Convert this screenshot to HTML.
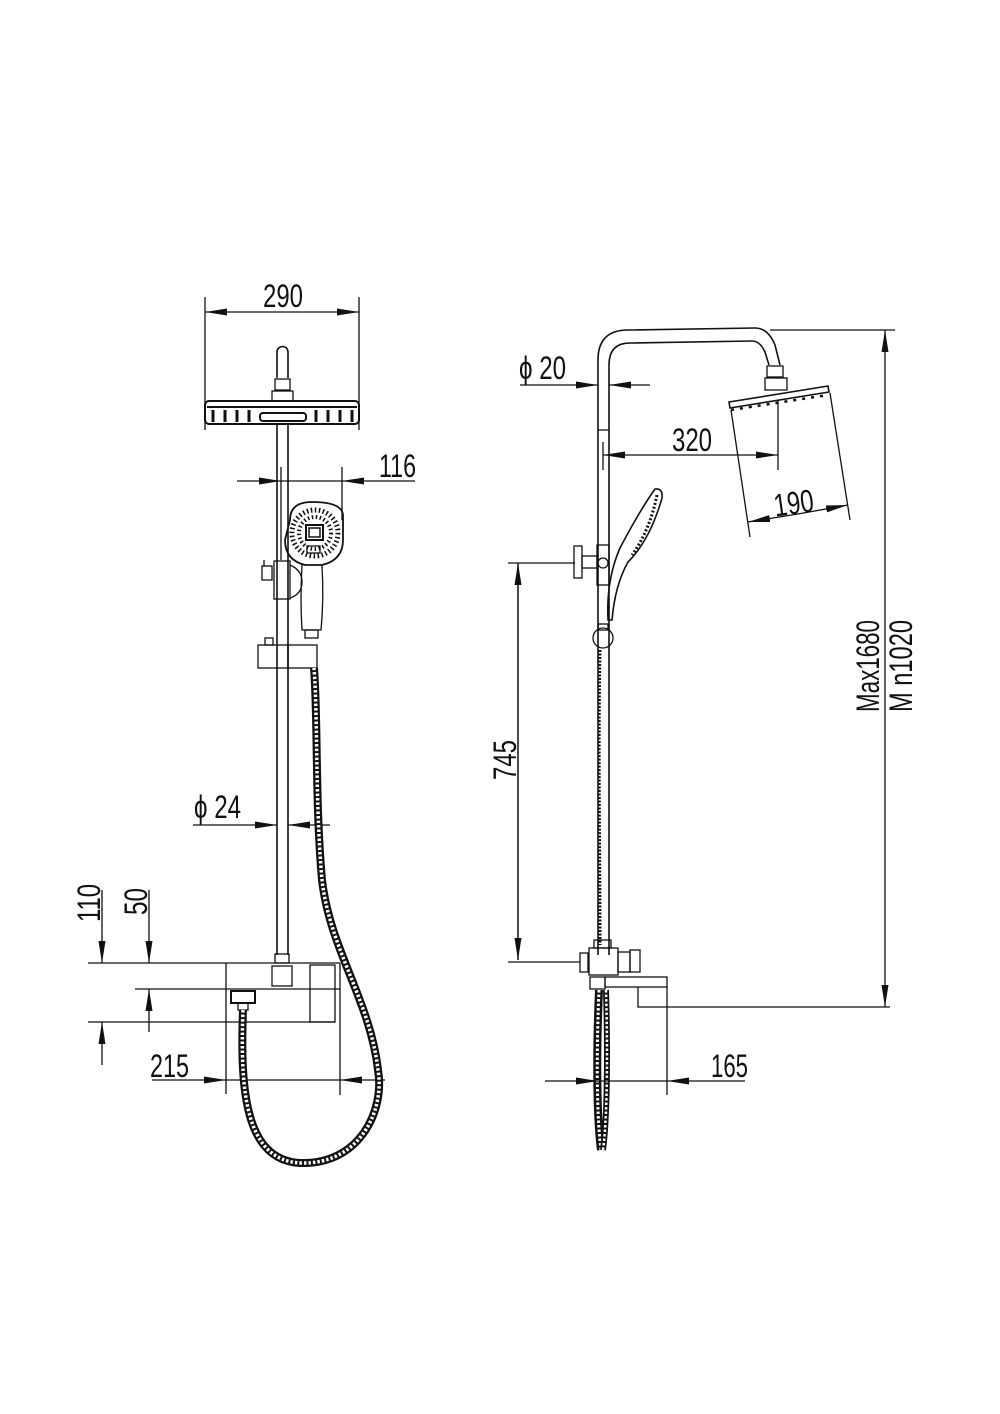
<!DOCTYPE html>
<html><head><meta charset="utf-8"><style>html,body{margin:0;padding:0;background:#fff}svg{display:block}text{font-family:"Liberation Sans Narrow","Liberation Sans",sans-serif;font-size:32px;fill:#111}</style></head><body>
<svg width="1000" height="1414" viewBox="0 0 1000 1414" xmlns="http://www.w3.org/2000/svg">
<defs>
<marker id="a" viewBox="0 0 22 7" refX="22" refY="3.5" markerWidth="22" markerHeight="7" markerUnits="userSpaceOnUse" orient="auto"><path d="M0,0 L22,3.5 L0,7 Z" fill="#111"/></marker>
</defs>
<g stroke="#111" stroke-width="1.3" fill="none">
<!-- LEFT VIEW -->
<line x1="205" y1="297" x2="205" y2="430"/><line x1="359" y1="297" x2="359" y2="430"/>
<line x1="283" y1="312" x2="205" y2="312" marker-end="url(#a)"/><line x1="283" y1="312" x2="359" y2="312" marker-end="url(#a)"/>
<path d="M277,378 V352 A5.5,5.5 0 0 1 288,352 V378" stroke-width="1.6"/>
<rect x="275" y="379" width="15" height="11"/><rect x="272" y="391" width="21" height="10"/>
<rect x="205" y="401" width="154" height="23" rx="4" stroke-width="2"/>
<line x1="207" y1="407" x2="357" y2="407" stroke-width="2"/>
<g stroke-width="3"><line x1="213" y1="410" x2="213" y2="422"/><line x1="225" y1="410" x2="225" y2="422"/><line x1="237" y1="410" x2="237" y2="422"/><line x1="249" y1="410" x2="249" y2="422"/><line x1="316" y1="410" x2="316" y2="422"/><line x1="328" y1="410" x2="328" y2="422"/><line x1="340" y1="410" x2="340" y2="422"/><line x1="352" y1="410" x2="352" y2="422"/></g>
<rect x="260" y="413" width="46" height="8" rx="3" stroke-width="2"/>
<line x1="277" y1="424" x2="277" y2="955" stroke-width="1.6"/><line x1="288" y1="424" x2="288" y2="955" stroke-width="1.6"/>
<line x1="281" y1="467" x2="281" y2="560"/><line x1="342" y1="467" x2="342" y2="520"/>
<line x1="237" y1="481" x2="281" y2="481" marker-end="url(#a)"/><line x1="370" y1="481" x2="342" y2="481" marker-end="url(#a)"/>
<line x1="281" y1="481" x2="342" y2="481"/><line x1="370" y1="481" x2="415" y2="481"/>
<path d="M290,520 Q290,502 312,502 Q342,502 343,515 V540 Q343,560 322,565 H305 Q285,560 285,540 Z" stroke-width="1.8"/>
<circle cx="315" cy="533" r="23" stroke="#111" stroke-width="5" stroke-dasharray="1.5 2.5"/>
<circle cx="315" cy="533" r="16" stroke="#111" stroke-width="4" stroke-dasharray="1.5 2.5"/>
<rect x="306" y="525" width="17" height="15" stroke-width="2"/><rect x="309" y="528" width="11" height="9" stroke-width="1.5"/>
<rect x="307" y="546" width="13" height="7"/>
<path d="M302,565 Q300,600 302,630 H321 Q324,600 322,565"/>
<rect x="305" y="630" width="13" height="8"/>
<rect x="274" y="561" width="16" height="38"/><path d="M290,565 Q302,570 302,582 Q302,594 290,598"/>
<rect x="262" y="566" width="10" height="14"/><line x1="264" y1="560" x2="264" y2="566"/>
<rect x="258" y="645" width="30" height="23"/><rect x="288" y="645" width="29" height="23"/><rect x="265" y="638" width="8" height="7"/>
<line x1="193" y1="825" x2="277" y2="825" marker-end="url(#a)"/><line x1="330" y1="825" x2="288" y2="825" marker-end="url(#a)"/>
<line x1="88" y1="963" x2="340" y2="963"/><line x1="135" y1="989" x2="340" y2="989"/><line x1="88" y1="1022" x2="335" y2="1022"/>
<line x1="226" y1="963" x2="226" y2="1094"/><line x1="340" y1="963" x2="340" y2="1095"/>
<rect x="310" y="965" width="25" height="57"/><rect x="272" y="966" width="20" height="20"/>
<rect x="275" y="954" width="14" height="9"/>
<rect x="231" y="991" width="24" height="12" stroke-width="2"/><rect x="238" y="1003" width="10" height="7"/>
<line x1="102" y1="890" x2="102" y2="963" marker-end="url(#a)"/><line x1="102" y1="1065" x2="102" y2="1022" marker-end="url(#a)"/>
<line x1="149" y1="890" x2="149" y2="963" marker-end="url(#a)"/><line x1="149" y1="1032" x2="149" y2="989" marker-end="url(#a)"/>
<line x1="152" y1="1080" x2="226" y2="1080" marker-end="url(#a)"/><line x1="226" y1="1080" x2="340" y2="1080"/><line x1="385" y1="1080" x2="340" y2="1080" marker-end="url(#a)"/>
<path d="M243,1010 C240,1090 245,1160 300,1163 C360,1165 385,1110 378,1070 C370,1000 330,950 322,880 C315,800 318,720 314,668" stroke-width="8"/>
<path d="M243,1010 C240,1090 245,1160 300,1163 C360,1165 385,1110 378,1070 C370,1000 330,950 322,880 C315,800 318,720 314,668" stroke="#fff" stroke-width="3.5" stroke-dasharray="2.5 2"/>

<!-- RIGHT VIEW -->
<path d="M598,955 V360 Q598,330 628,330 L755,328 Q768,328 775,345 L780,365" stroke-width="1.6"/>
<path d="M609,955 V365 Q609,343 630,343 L752,341 Q760,341 765,352 L769,365" stroke-width="1.6"/>
<line x1="598" y1="430" x2="609" y2="430"/>
<rect x="767" y="366" width="16" height="11"/><rect x="765" y="378" width="22" height="12"/>
<path d="M729,402 L828,386 L829,392 L730,408 Z" stroke-width="1.6"/>
<path d="M731,410 L828,395" stroke-width="2.5" stroke-dasharray="3 6"/>
<line x1="731" y1="410" x2="750" y2="537"/><line x1="830" y1="393" x2="850" y2="520"/>
<line x1="798" y1="514" x2="748" y2="522" marker-end="url(#a)"/><line x1="798" y1="514" x2="848" y2="505" marker-end="url(#a)"/>
<line x1="520" y1="385" x2="598" y2="385" marker-end="url(#a)"/><line x1="650" y1="385" x2="609" y2="385" marker-end="url(#a)"/>
<line x1="603" y1="442" x2="603" y2="470"/><line x1="778" y1="400" x2="778" y2="470"/>
<line x1="690" y1="455" x2="603" y2="455" marker-end="url(#a)"/><line x1="690" y1="455" x2="778" y2="455" marker-end="url(#a)"/>
<path d="M655,489 Q663,488 662,498 Q650,540 628,562 Q615,585 612,620 L608,620 Q606,580 620,548 Q640,510 655,489 Z" stroke-width="1.6"/>
<path d="M657,495 Q650,530 632,555" stroke-width="3" stroke-dasharray="2 2"/>
<rect x="574" y="546" width="8" height="32"/><rect x="582" y="556" width="15" height="12"/>
<rect x="597" y="545" width="12" height="40"/><circle cx="603" cy="563" r="5"/>
<circle cx="603" cy="638" r="10"/><rect x="598" y="624" width="10" height="6"/>
<line x1="508" y1="563" x2="575" y2="563"/><line x1="508" y1="962" x2="580" y2="962"/>
<line x1="518" y1="960" x2="518" y2="563" marker-end="url(#a)"/><line x1="518" y1="563" x2="518" y2="960" marker-end="url(#a)"/>
<rect x="580" y="953" width="8" height="19"/><rect x="589" y="948" width="29" height="27"/>
<rect x="618" y="952" width="12" height="20"/><rect x="630" y="950" width="10" height="22"/>
<rect x="594" y="940" width="17" height="8"/>
<rect x="590" y="977" width="15" height="12"/><rect x="605" y="977" width="62" height="10"/>
<path d="M638,987 V1007 H890"/>
<line x1="667" y1="987" x2="667" y2="1095"/>
<path d="M599,990 C596,1060 597,1120 601,1150" stroke-width="8"/>
<path d="M599,990 C596,1060 597,1120 601,1150" stroke="#fff" stroke-width="3" stroke-dasharray="2.5 2"/>
<path d="M606,990 C608,1060 607,1120 603,1150" stroke-width="6"/>
<path d="M606,990 C608,1060 607,1120 603,1150" stroke="#fff" stroke-width="2.5" stroke-dasharray="2.5 2"/>
<path d="M600,650 C598,750 600,850 600,945" stroke-width="3" stroke-dasharray="2 1.5"/>
<line x1="545" y1="1081" x2="598" y2="1081" marker-end="url(#a)"/><line x1="598" y1="1081" x2="667" y2="1081"/><line x1="745" y1="1081" x2="667" y2="1081" marker-end="url(#a)"/>
<line x1="770" y1="330" x2="895" y2="330"/>
<line x1="885" y1="668" x2="885" y2="330" marker-end="url(#a)"/><line x1="885" y1="668" x2="885" y2="1007" marker-end="url(#a)"/>
</g>
<g>
<text x="263" y="307" textLength="40" lengthAdjust="spacingAndGlyphs">290</text>
<text x="379" y="477" textLength="37" lengthAdjust="spacingAndGlyphs">116</text>
<text x="194" y="818" textLength="47" lengthAdjust="spacingAndGlyphs">ϕ 24</text>
<text transform="translate(100,922) rotate(-90)" textLength="38" lengthAdjust="spacingAndGlyphs">110</text>
<text transform="translate(147,915) rotate(-90)" textLength="27" lengthAdjust="spacingAndGlyphs">50</text>
<text x="150" y="1077" textLength="39" lengthAdjust="spacingAndGlyphs">215</text>
<text x="519" y="379" textLength="47" lengthAdjust="spacingAndGlyphs">ϕ 20</text>
<text x="672" y="451" textLength="40" lengthAdjust="spacingAndGlyphs">320</text>
<text transform="translate(815,511) rotate(-8)" x="-40" textLength="40" lengthAdjust="spacingAndGlyphs">190</text>
<text transform="translate(516,780) rotate(-90)" textLength="40" lengthAdjust="spacingAndGlyphs">745</text>
<text transform="translate(879,712) rotate(-90)" textLength="92" lengthAdjust="spacingAndGlyphs">Max1680</text>
<text transform="translate(912,712) rotate(-90)" textLength="92" lengthAdjust="spacingAndGlyphs">M n1020</text>
<text x="711" y="1077" textLength="37" lengthAdjust="spacingAndGlyphs">165</text>
</g>
</svg>
</body></html>
